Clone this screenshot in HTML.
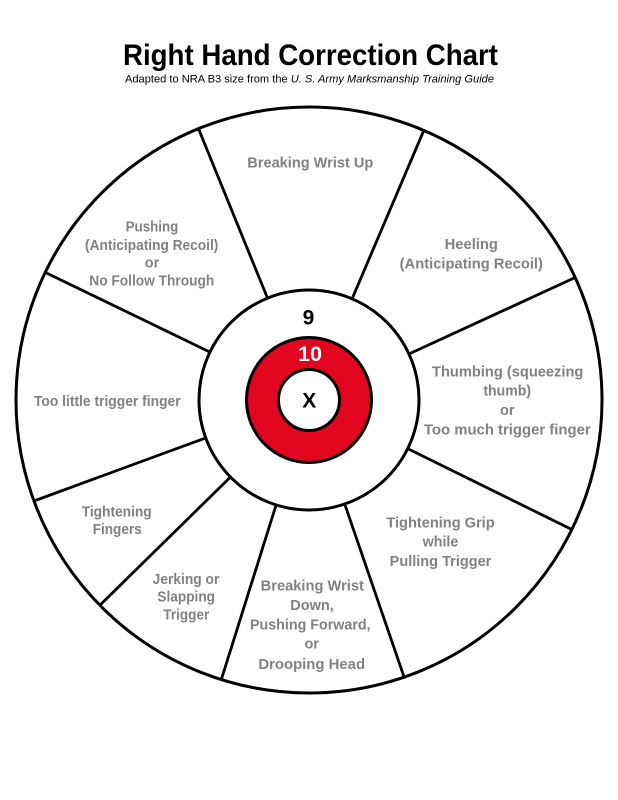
<!DOCTYPE html>
<html>
<head>
<meta charset="utf-8">
<style>
  html,body{margin:0;padding:0;background:#fff;}
  svg{display:block;}
  .lbl{font-family:"Liberation Sans",Arial,sans-serif;font-weight:bold;font-size:14.5px;fill:#818181;text-anchor:middle;}
</style>
</head>
<body>
<svg width="618" height="800" viewBox="0 0 618 800" xmlns="http://www.w3.org/2000/svg">
  <rect width="618" height="800" fill="#fff"/>
  <!-- Title -->
  <text x="310.5" y="65" font-family="Liberation Sans, Arial, sans-serif" font-weight="bold" font-size="30" fill="#000" text-anchor="middle" textLength="375" lengthAdjust="spacingAndGlyphs">Right Hand Correction Chart</text>
  <text x="309.5" y="82.7" font-family="Liberation Sans, Arial, sans-serif" font-size="11.3" fill="#000" text-anchor="middle" textLength="369" lengthAdjust="spacingAndGlyphs">Adapted to NRA B3 size from the <tspan font-style="italic">U. S. Army Marksmanship Training Guide</tspan></text>

  <!-- Outer circle -->
  <circle cx="309" cy="400" r="293" fill="#fff" stroke="#000" stroke-width="3"/>

  <!-- Divider lines -->
  <g stroke="#000" stroke-width="2.8" stroke-linecap="butt">
    <line x1="267.5" y1="298.1" x2="198.5" y2="128.7"/>
    <line x1="352.1" y1="298.8" x2="423.8" y2="130.4"/>
    <line x1="408.9" y1="354.0" x2="575.2" y2="277.5"/>
    <line x1="210.0" y1="352.1" x2="45.2" y2="272.4"/>
    <line x1="205.7" y1="437.9" x2="33.9" y2="501.0"/>
    <line x1="230.5" y1="477.0" x2="99.9" y2="605.2"/>
    <line x1="276.1" y1="505.0" x2="221.3" y2="679.6"/>
    <line x1="407.7" y1="448.6" x2="571.8" y2="529.5"/>
    <line x1="344.7" y1="504.0" x2="404.1" y2="677.1"/>
  </g>

  <!-- Inner rings -->
  <circle cx="309" cy="400" r="110" fill="#fff" stroke="#000" stroke-width="3"/>
  <circle cx="309" cy="400" r="62.5" fill="#e1051f" stroke="#000" stroke-width="3"/>
  <circle cx="309" cy="400" r="30.5" fill="#fff" stroke="#000" stroke-width="3"/>

  <text x="308.5" y="324.5" font-family="Liberation Sans, Arial, sans-serif" font-weight="bold" font-size="21" fill="#000" text-anchor="middle">9</text>
  <text x="310" y="361" font-family="Liberation Sans, Arial, sans-serif" font-weight="bold" font-size="21.5" fill="#fff" text-anchor="middle">10</text>
  <text x="309.2" y="407.5" font-family="Liberation Sans, Arial, sans-serif" font-weight="bold" font-size="21" fill="#000" text-anchor="middle">X</text>

  <!-- Labels -->
  <text class="lbl" x="310.3" y="167.3" textLength="126" lengthAdjust="spacingAndGlyphs">Breaking Wrist Up</text>

  <text class="lbl" x="152" y="231.7" textLength="52.7" lengthAdjust="spacingAndGlyphs">Pushing</text>
  <text class="lbl" x="151.7" y="250" textLength="133.3" lengthAdjust="spacingAndGlyphs">(Anticipating Recoil)</text>
  <text class="lbl" x="152" y="267.3">or</text>
  <text class="lbl" x="151.8" y="285.7" textLength="125" lengthAdjust="spacingAndGlyphs">No Follow Through</text>

  <text class="lbl" x="471.3" y="249" textLength="53.3" lengthAdjust="spacingAndGlyphs">Heeling</text>
  <text class="lbl" x="471.3" y="268.3" textLength="143.3" lengthAdjust="spacingAndGlyphs">(Anticipating Recoil)</text>

  <text class="lbl" x="507.7" y="376.7" textLength="151.3" lengthAdjust="spacingAndGlyphs">Thumbing (squeezing</text>
  <text class="lbl" x="507.2" y="395.3" textLength="47.7" lengthAdjust="spacingAndGlyphs">thumb)</text>
  <text class="lbl" x="507.3" y="415">or</text>
  <text class="lbl" x="507.3" y="434.3" textLength="166.7" lengthAdjust="spacingAndGlyphs">Too much trigger finger</text>

  <text class="lbl" x="107.3" y="406" textLength="146.7" lengthAdjust="spacingAndGlyphs">Too little trigger finger</text>

  <text class="lbl" x="116.7" y="516.5" textLength="70" lengthAdjust="spacingAndGlyphs">Tightening</text>
  <text class="lbl" x="117.2" y="534.2" textLength="49" lengthAdjust="spacingAndGlyphs">Fingers</text>

  <text class="lbl" x="186" y="584" textLength="66.7" lengthAdjust="spacingAndGlyphs">Jerking or</text>
  <text class="lbl" x="186.2" y="601.7" textLength="57.7" lengthAdjust="spacingAndGlyphs">Slapping</text>
  <text class="lbl" x="186.3" y="619.5" textLength="46" lengthAdjust="spacingAndGlyphs">Trigger</text>

  <text class="lbl" x="312.3" y="590.7" textLength="103.3" lengthAdjust="spacingAndGlyphs">Breaking Wrist</text>
  <text class="lbl" x="312" y="610">Down,</text>
  <text class="lbl" x="310.3" y="629.3" textLength="120.7" lengthAdjust="spacingAndGlyphs">Pushing Forward,</text>
  <text class="lbl" x="311.7" y="648.5">or</text>
  <text class="lbl" x="311.7" y="669" textLength="106.7" lengthAdjust="spacingAndGlyphs">Drooping Head</text>

  <text class="lbl" x="440.5" y="527.7" textLength="108.3" lengthAdjust="spacingAndGlyphs">Tightening Grip</text>
  <text class="lbl" x="440.5" y="546.7" textLength="35.7" lengthAdjust="spacingAndGlyphs">while</text>
  <text class="lbl" x="440.5" y="566" textLength="101.7" lengthAdjust="spacingAndGlyphs">Pulling Trigger</text>
</svg>
</body>
</html>
